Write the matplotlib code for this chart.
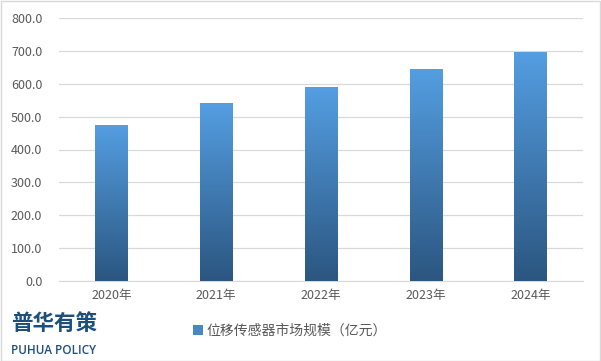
import matplotlib.pyplot as plt
import numpy as np
from matplotlib.colors import LinearSegmentedColormap
from matplotlib.patches import Patch

plt.rcParams['font.family'] = ['Noto Sans CJK SC', 'DejaVu Sans']

years = ["2020年", "2021年", "2022年", "2023年", "2024年"]
market_size = [475.0, 540.0, 590.0, 646.0, 698.0]
y_ticks = [0, 100, 200, 300, 400, 500, 600, 700, 800]
series_name = "位移传感器市场规模（亿元）"

TOP = "#549ee2"
BOTTOM = "#2b5680"
GRID = "#d9d9d9"
TEXT = "#595959"
LOGO = "#1d4f7c"

fig = plt.figure(figsize=(6.01, 3.61), dpi=100)
ax = fig.add_axes([59 / 601, 80 / 361, 524 / 601, 263 / 361])

x = np.arange(len(years))
bars = ax.bar(x, market_size, width=0.31, color=TOP, zorder=3)

# vertical gradient inside each bar, clipped to the bar shape
cmap = LinearSegmentedColormap.from_list("grad", [BOTTOM, TOP])
grad = np.linspace(0, 1, 256).reshape(-1, 1)
for b in bars:
    x0, y0 = b.get_x(), b.get_y()
    im = ax.imshow(grad, cmap=cmap, origin="lower", aspect="auto",
                   extent=[x0, x0 + b.get_width(), y0, y0 + b.get_height()],
                   zorder=4)
    im.set_clip_path(b)

ax.set_xlim(-0.5, len(years) - 0.5)
ax.set_ylim(0, 800)
ax.set_yticks(y_ticks)
ax.set_yticklabels([f"{v:.1f}" for v in y_ticks])
ax.set_xticks(x)
ax.set_xticklabels(years)
ax.tick_params(axis="both", length=0, colors=TEXT, labelsize=9)
ax.tick_params(axis="y", pad=12)
ax.tick_params(axis="x", pad=6)

ax.grid(axis="y", color=GRID, lw=0.9, zorder=0)
for side in ("top", "right", "left"):
    ax.spines[side].set_visible(False)
ax.spines["bottom"].set_color(GRID)

leg = fig.legend(handles=[Patch(facecolor="#4a86c0", edgecolor="none")],
                 labels=[series_name], loc="center",
                 bbox_to_anchor=(290 / 601, 1 - 331 / 361),
                 frameon=False, fontsize=10, handlelength=0.7,
                 handleheight=0.7, handletextpad=0.3)
for t in leg.get_texts():
    t.set_color(TEXT)

# logo
fig.text(11 / 601, 1 - 323 / 361, "普华有策", fontsize=15.5, fontweight="heavy",
         color=LOGO, va="center", ha="left")
fig.text(11 / 601, 1 - 350 / 361, "PUHUA POLICY", fontsize=8.5,
         color=LOGO, va="center", ha="left", fontweight="semibold",
         family=["Open Sans", "DejaVu Sans"])

fig.patches.append(plt.Rectangle((0.5 / 601, 0.5 / 361), 599.5 / 601, 359.5 / 361,
                                 transform=fig.transFigure, fill=False,
                                 edgecolor="#d9d9d9", lw=1))

fig.savefig("out.png", dpi=100)
